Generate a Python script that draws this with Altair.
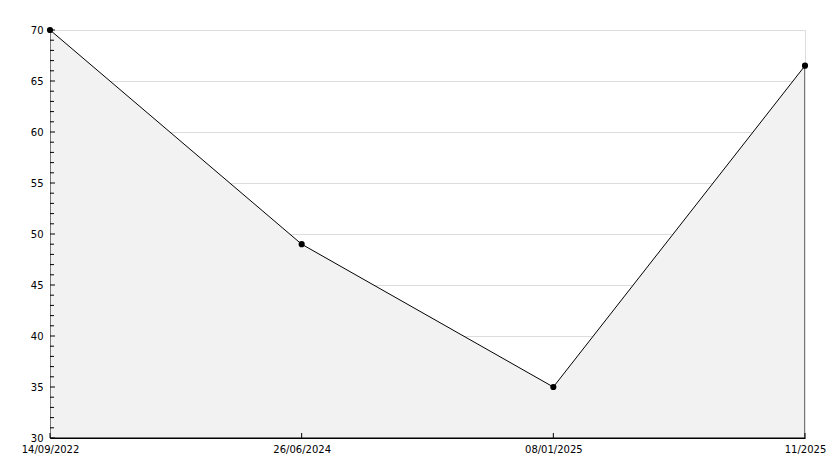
import altair as alt
import pandas as pd

dates = ["14/09/2022", "26/06/2024", "08/01/2025", "11/2025"]
values = [70, 49, 35, 66.5]
major_ticks = [30, 35, 40, 45, 50, 55, 60, 65, 70]
minor_ticks = [v for v in range(30, 71) if v % 5 != 0]
baseline = [30, 30, 30, 30]

df = pd.DataFrame({"date": dates, "value": values, "base": baseline})
df_major = pd.DataFrame({"value": major_ticks})
df_minor = pd.DataFrame({"value": minor_ticks})
df_xt = pd.DataFrame({"date": dates})

W, H = 755, 408

xscale = alt.Scale(type="point", padding=0, domain=dates)
yscale = alt.Scale(domain=[30, 70], nice=False, zero=False, clamp=True)

x_enc = alt.X("date:N", sort=dates, scale=xscale, title=None,
              axis=alt.Axis(labelAngle=0, grid=False, ticks=False, domainColor="black",
                            labelFont="DejaVu Sans", labelFontSize=10, labelColor="black",
                            labelPadding=6, labelFlush=False, labelOverlap=False,
                            labelAlign="center", labelBaseline="top", labelBound=False))
y_enc = alt.Y("value:Q", scale=yscale, title=None,
              axis=alt.Axis(values=major_ticks, grid=True, gridColor="#dddddd", ticks=False,
                            domainColor="black", labelFont="DejaVu Sans", labelFontSize=10,
                            labelColor="black", labelPadding=7, labelFlush=False,
                            labelOverlap=False))

area = alt.Chart(df).mark_area(fill="#f2f2f2", stroke="black", strokeWidth=1, clip=True).encode(
    x=x_enc, y=y_enc, y2="base:Q"
)
pts = alt.Chart(df).mark_point(shape="circle", filled=True, color="black", size=38, opacity=1).encode(
    x=x_enc, y=y_enc
)
ymaj = alt.Chart(df_major).mark_rule(color="black").encode(
    y=y_enc, x=alt.value(0), x2=alt.value(5)
)
ymin = alt.Chart(df_minor).mark_rule(color="black").encode(
    y=y_enc, x=alt.value(0), x2=alt.value(4)
)
xt = alt.Chart(df_xt).mark_rule(color="black").encode(
    x=x_enc, y=alt.value(H - 5), y2=alt.value(H)
)

chart = alt.layer(area, ymaj, ymin, xt, pts).properties(
    width=W, height=H,
    autosize=alt.AutoSizeParams(type="none"),
    padding={"left": 42, "top": 22, "right": 21, "bottom": 22},
).configure_view(stroke=None).configure(background="white")

chart.save("out.html", embed_options={"renderer": "svg", "actions": False})
